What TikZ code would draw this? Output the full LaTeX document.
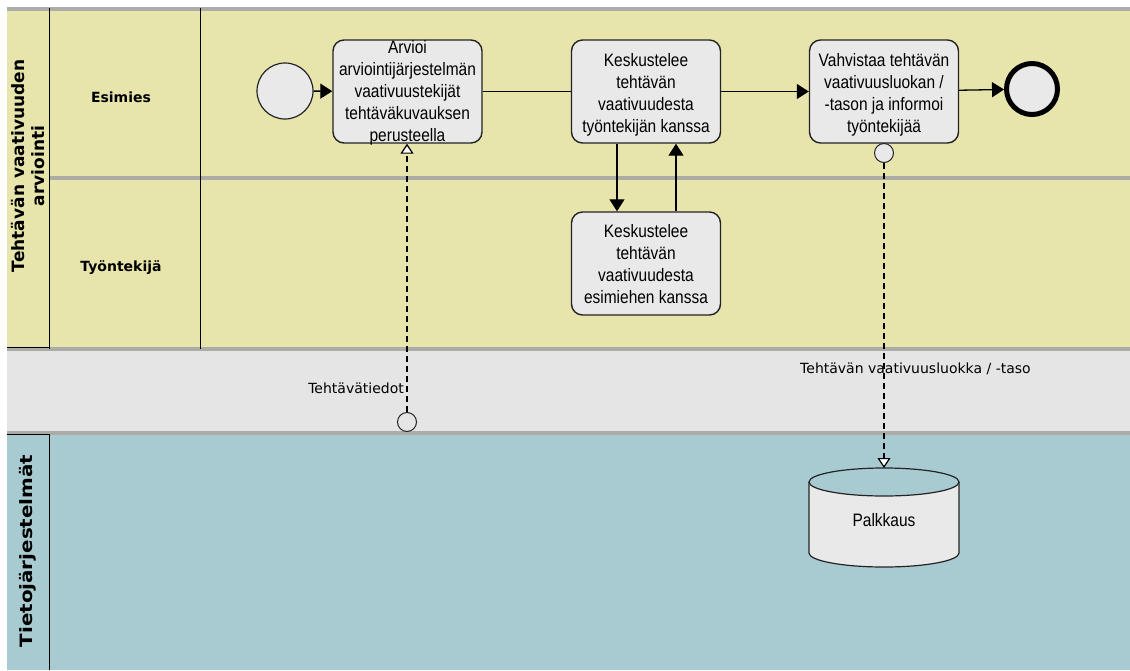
\documentclass[tikz,border=0pt]{standalone}
\usepackage{fontspec}
\setmainfont{Liberation Sans}
\newfontfamily\tahoma{DejaVu Sans}
\newfontfamily\widetahoma[FakeStretch=1.17]{DejaVu Sans}
\newfontfamily\narrowfont[FakeStretch=0.86]{Liberation Sans}
\usetikzlibrary{arrows.meta}
\definecolor{poolyellow}{RGB}{231,229,172}
\definecolor{poolblue}{RGB}{168,203,210}
\definecolor{bandgray}{RGB}{229,229,229}
\definecolor{sepgray}{RGB}{172,172,166}
\definecolor{taskfill}{RGB}{233,233,233}
\definecolor{edgecol}{RGB}{35,35,35}
\begin{document}
\begin{tikzpicture}[x=1pt,y=-1pt,
  task/.style={draw=edgecol, line width=1.4pt, fill=taskfill, rounded corners=11pt,
    minimum width=149pt, minimum height=103pt, inner sep=0pt},
  tasktext/.style={font=\narrowfont\fontsize{18}{22}\selectfont, align=center, inner sep=0pt},
  lanelabel/.style={font=\tahoma\bfseries\fontsize{14}{16}\selectfont},
  poollabel/.style={font=\tahoma\bfseries\fontsize{17}{20}\selectfont, rotate=90, align=center},
  flow/.style={draw=black, line width=1.3pt, -{Triangle[length=12pt,width=15pt]}},
  plainflow/.style={draw=black, line width=1.3pt},
  msg/.style={draw=black, line width=1.2pt, dash pattern=on 6pt off 4pt,
    -{Triangle[open,length=10pt,width=13pt,fill=white]}},
  msgcircle/.style={circle, draw=edgecol, line width=1pt, minimum size=19pt, inner sep=0pt},
  msglabel/.style={font=\tahoma\fontsize{14}{16}\selectfont, inner sep=0pt},
  black line/.style={draw=black, line width=1pt},
  sep line/.style={draw=sepgray, line width=4pt}
]
\useasboundingbox (0,0) rectangle (1130,670);
\fill[white] (0,0) rectangle (1130,670);

% pools and lanes
\fill[poolyellow] (7,8) rectangle (1130,349);
\fill[bandgray] (7,349) rectangle (1130,433);
\fill[poolblue] (7,433) rectangle (1130,670);
\draw[sep line] (7,9) -- (1130,9);
\draw[sep line] (49,177.5) -- (1130,177.5);
\draw[sep line] (7,349) -- (1130,349);
\draw[sep line] (7,433) -- (1130,433);
\draw[black line] (49,8) -- (49,349);
\draw[black line] (200,8) -- (200,349);
\draw[black line] (7,347.5) -- (49,347.5);
\draw[black line] (7,434) -- (49,434) -- (49,670);

\node[poollabel] (poolA) at (28,166) {Tehtävän vaativuuden\\arviointi};
\node[poollabel, font=\widetahoma\bfseries\fontsize{17}{20}\selectfont] (poolB) at (28,551) {Tietojärjestelmät};
\node[lanelabel] (laneA) at (121,97) {Esimies};
\node[lanelabel] (laneB) at (121,268) {Työntekijä};

% events
\node[circle, draw=edgecol, line width=1.2pt, fill=taskfill, minimum size=56pt, inner sep=0pt] (start) at (285,91) {};
\node[circle, draw=black, line width=5pt, fill=taskfill, minimum size=51pt, inner sep=0pt] (end) at (1032,89) {};

% tasks
\node[task] (t1) at (407.5,91.5) {};
\node[tasktext] (t1txt) at (407.5,93) {Arvioi\\arviointijärjestelmän\\vaativuustekijät\\tehtäväkuvauksen\\perusteella};
\node[task] (t2) at (646,91.5) {};
\node[tasktext] (t2txt) at (646,94.5) {Keskustelee\\tehtävän\\vaativuudesta\\työntekijän kanssa};
\node[task] (t3) at (646,263.5) {};
\node[tasktext] (t3txt) at (646,264) {Keskustelee\\tehtävän\\vaativuudesta\\esimiehen kanssa};
\node[task] (t4) at (884,91.5) {};
\node[tasktext] (t4txt) at (884,94.5) {Vahvistaa tehtävän\\vaativuusluokan /\\-tason ja informoi\\työntekijää};

% data store
\fill[taskfill] (809,482) -- (809,553) arc[start angle=180, end angle=0, x radius=75, y radius=14]
  -- (959,482) arc[start angle=0, end angle=180, x radius=75, y radius=14] -- cycle;
\draw[edgecol, line width=1.2pt] (809,482) -- (809,553) arc[start angle=180, end angle=0, x radius=75, y radius=14] -- (959,482);
\draw[edgecol, line width=1.2pt] (884,482) ellipse[x radius=75, y radius=14];
\node[font=\narrowfont\fontsize{18}{22}\selectfont, inner sep=0pt] (db) at (884,520) {Palkkaus};
\coordinate (dbtop) at (884,468);

% sequence flows
\draw[flow] (start) -- (t1);
\draw[plainflow] (t1) -- (t2);
\draw[flow] (t2) -- (t4);
\draw[flow] (t4) -- (end);
\draw[flow] ([xshift=-29pt]t2.south) -- ([xshift=-29pt]t3.north);
\draw[flow] ([xshift=30pt]t3.north) -- ([xshift=30pt]t2.south);

% message flows
\node[msgcircle, fill=bandgray] (m1) at (407,422) {};
\node[msgcircle, fill=taskfill] (m2) at (884,153) {};
\draw[msg] (m1) -- (t1.south -| m1);
\draw[msg] (m2) -- (dbtop);
\node[msglabel, anchor=east] (lab1) at (404,388) {Tehtävätiedot};
\node[msglabel, anchor=west] (lab2) at (800,369) {Tehtävän vaativuusluokka / -taso};
\end{tikzpicture}
\end{document}
